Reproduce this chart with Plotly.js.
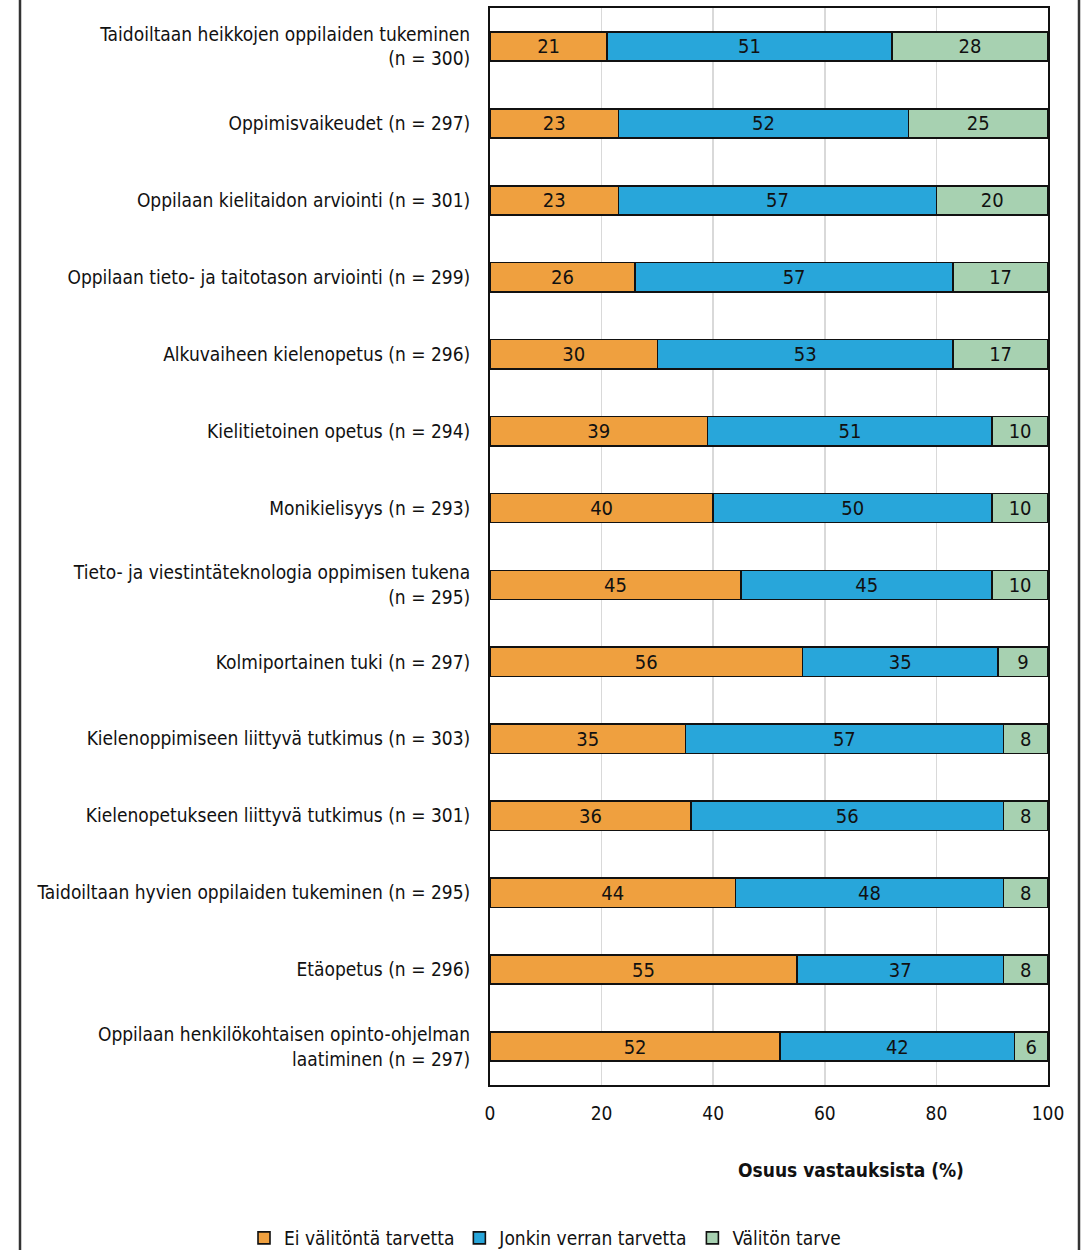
<!DOCTYPE html>
<html>
<head>
<meta charset="utf-8">
<script src="https://cdn.plot.ly/plotly-3.0.1.min.js"></script>
<style>
html,body{margin:0;padding:0;background:#fff;}
#chart{width:1091px;height:1250px;}
</style>
</head>
<body>
<div id="chart"></div>
<script>
const categories = [
  "Taidoiltaan heikkojen oppilaiden tukeminen<br>(n = 300)",
  "Oppimisvaikeudet (n = 297)",
  "Oppilaan kielitaidon arviointi (n = 301)",
  "Oppilaan tieto- ja taitotason arviointi (n = 299)",
  "Alkuvaiheen kielenopetus (n = 296)",
  "Kielitietoinen opetus (n = 294)",
  "Monikielisyys (n = 293)",
  "Tieto- ja viestintäteknologia oppimisen tukena<br>(n = 295)",
  "Kolmiportainen tuki (n = 297)",
  "Kielenoppimiseen liittyvä tutkimus (n = 303)",
  "Kielenopetukseen liittyvä tutkimus (n = 301)",
  "Taidoiltaan hyvien oppilaiden tukeminen (n = 295)",
  "Etäopetus (n = 296)",
  "Oppilaan henkilökohtaisen opinto-ohjelman<br>laatiminen (n = 297)"
];
const eiTarvetta = [21, 23, 23, 26, 30, 39, 40, 45, 56, 35, 36, 44, 55, 52];
const jonkinVerran = [51, 52, 57, 57, 53, 51, 50, 45, 35, 57, 56, 48, 37, 42];
const valitonTarve = [28, 25, 20, 17, 17, 10, 10, 10, 9, 8, 8, 8, 8, 6];
const seriesNames = ["Ei välitöntä tarvetta", "Jonkin verran tarvetta", "Välitön tarve"];
const xTicks = [0, 20, 40, 60, 80, 100];
const xTitle = "Osuus vastauksista (%)";

const FONT = "'Liberation Sans Narrow', 'Arial Narrow', 'DejaVu Sans Condensed', sans-serif";
const colors = ["#EFA03F", "#28A6DA", "#A7D1B1"];
const seriesVals = [eiTarvetta, jonkinVerran, valitonTarve];

const traces = seriesVals.map((vals, i) => ({
  type: 'bar',
  orientation: 'h',
  name: seriesNames[i],
  y: categories,
  x: vals,
  text: vals.map(String),
  textposition: 'inside',
  insidetextanchor: 'middle',
  textangle: 0,
  constraintext: 'none',
  textfont: {family: FONT, size: 20, color: '#111'},
  marker: {color: colors[i], line: {color: '#111', width: 1.6}},
  width: 0.38,
  hoverinfo: 'none'
}));

const L = 490, R = 1048, T = 8, B = 1085;
const px = v => (v - L) / (R - L);
const py = v => (B - v) / (B - T);

const layout = {
  width: 1091, height: 1250,
  margin: {l: L, r: 1091 - R, t: T, b: 1250 - B, autoexpand: false},
  barmode: 'stack',
  paper_bgcolor: '#fff',
  plot_bgcolor: '#fff',
  font: {family: FONT, size: 19, color: '#111'},
  showlegend: true,
  legend: {
    orientation: 'h',
    xref: 'paper', yref: 'paper',
    x: px(244), xanchor: 'left',
    y: py(1238), yanchor: 'middle',
    font: {family: FONT, size: 19, color: '#111'},
    itemwidth: 30,
    tracegroupgap: 0,
    traceorder: 'normal',
    bgcolor: 'rgba(0,0,0,0)'
  },
  xaxis: {
    range: [0, 100],
    tickvals: xTicks,
    ticktext: xTicks.map(String),
    showgrid: true,
    gridcolor: '#d9d9d9',
    gridwidth: 1.5,
    zeroline: false,
    showline: true,
    linecolor: '#111',
    linewidth: 2,
    mirror: true,
    ticks: '',
    ticklabelstandoff: 10,
    tickfont: {family: FONT, size: 19, color: '#111'},
    fixedrange: true
  },
  yaxis: {
    type: 'category',
    autorange: 'reversed',
    showgrid: false,
    showline: true,
    linecolor: '#111',
    linewidth: 2,
    mirror: true,
    ticks: '',
    ticklabelstandoff: 14,
    tickfont: {family: FONT, size: 19, color: '#111'},
    fixedrange: true
  },
  annotations: [{
    text: '<b>' + xTitle + '</b>',
    xref: 'paper', yref: 'paper',
    x: px(851), xanchor: 'center',
    y: py(1170), yanchor: 'middle',
    showarrow: false,
    font: {family: FONT, size: 19, color: '#111'}
  }],
  shapes: [
    {type: 'line', xref: 'paper', yref: 'paper', x0: px(20), x1: px(20), y0: -0.2, y1: 1.05, line: {color: '#333', width: 2.5}},
    {type: 'line', xref: 'paper', yref: 'paper', x0: px(1079), x1: px(1079), y0: -0.2, y1: 1.05, line: {color: '#333', width: 2.5}}
  ]
};

Plotly.newPlot('chart', traces, layout, {displayModeBar: false, staticPlot: true});
</script>
</body>
</html>
